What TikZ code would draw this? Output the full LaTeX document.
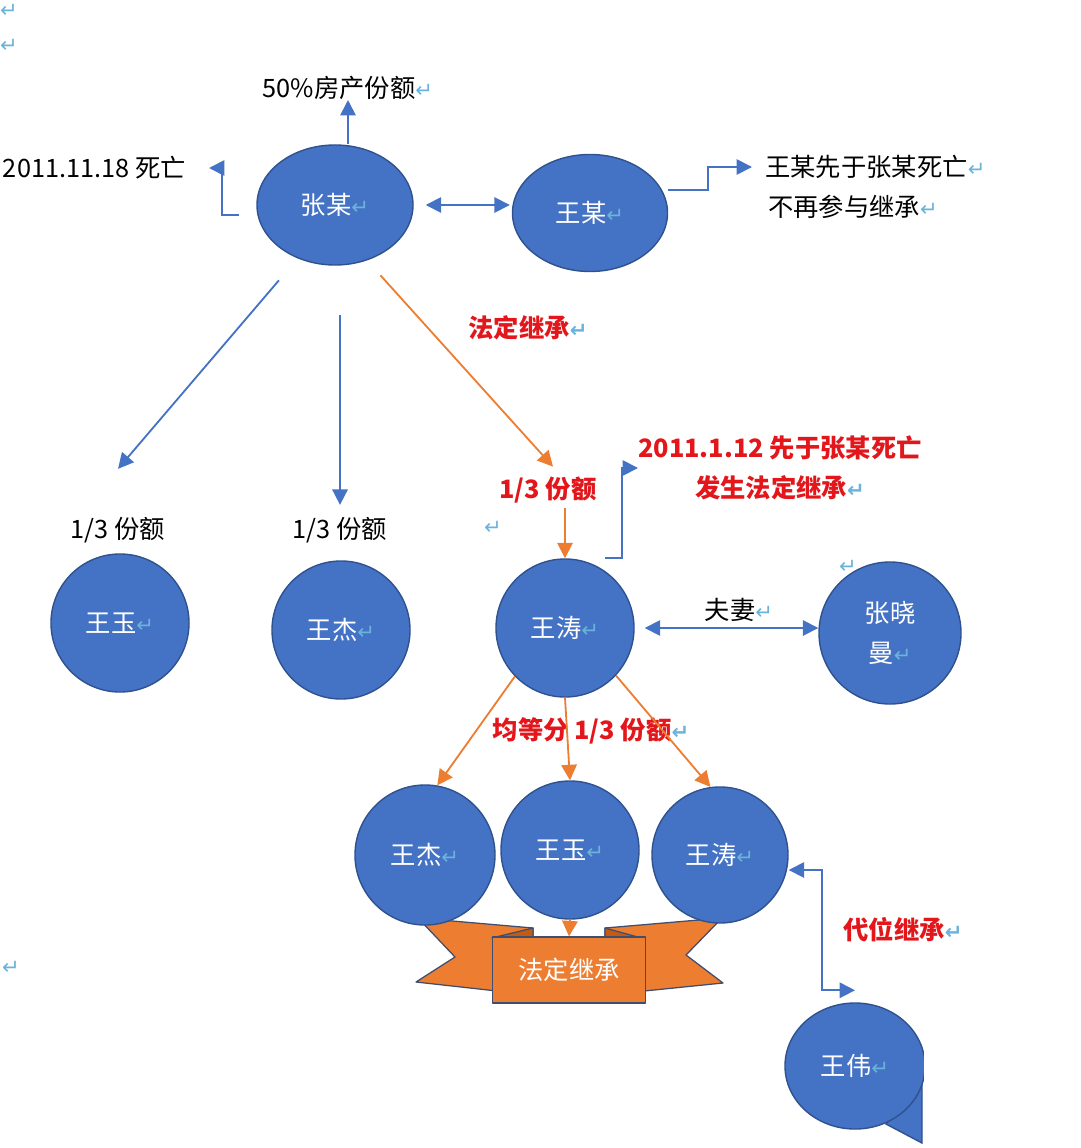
\documentclass[tikz,border=0pt]{standalone}
\usepackage{fontspec}
\setmainfont{Noto Sans CJK SC}
\newfontfamily\retfont{DejaVu Sans}
\usetikzlibrary{arrows.meta,shapes.geometric}
\definecolor{ballblue}{HTML}{4472C4}
\definecolor{balledge}{HTML}{2F528F}
\definecolor{lineblue}{HTML}{4472C4}
\definecolor{lineorange}{HTML}{ED7D31}
\definecolor{foldorange}{HTML}{C55A11}
\definecolor{ribbonedge}{HTML}{3F4E6E}
\definecolor{notered}{HTML}{E3171B}
\definecolor{retblue}{HTML}{6BB3DA}
\newcommand{\ret}{{\retfont\color{retblue}\fontsize{15}{15}\selectfont ↵}}
\begin{document}
\begin{tikzpicture}[x=0.025cm,y=-0.025cm,
  every node/.style={font=\fontsize{18}{23}\selectfont, inner sep=0pt},
  ball/.style={circle, draw=balledge, fill=ballblue, line width=1pt, text=white, minimum size=3.45cm},
  oval/.style={ellipse, draw=balledge, fill=ballblue, line width=1pt, text=white, minimum width=3.9cm, minimum height=3cm},
  redtxt/.style={text=notered, font=\fontsize{18}{28.5}\selectfont\bfseries},
  barrow/.style={draw=lineblue, line width=1.3pt, -{Triangle[length=11pt,width=11pt]}},
  bbarrow/.style={draw=lineblue, line width=1.3pt, {Triangle[length=11pt,width=11pt]}-{Triangle[length=11pt,width=11pt]}},
  oarrow/.style={draw=lineorange, line width=1.3pt, -{Triangle[length=11pt,width=11pt]}},
  ribbon/.style={fill=lineorange, draw=ribbonedge, line width=0.9pt, line join=round},
  ]
\useasboundingbox (0,0) rectangle (1080,1148);

\node[oval] (zhang) at (335,205) {张某\ret};
\node[oval, minimum width=3.875cm, minimum height=2.925cm] (wang) at (590,213) {王某\ret};
\node (share) at (348,88) {50\%房产份额\ret};
\node[anchor=east] (death) at (186,168) {2011.11.18 死亡};
\node[anchor=west] (wnote1) at (765,167) {王某先于张某死亡\ret};
\node[anchor=west] (wnote2) at (768,207) {不再参与继承\ret};
\node[redtxt] (law) at (528,328) {法定继承\ret};
\node (s1) at (118,530) {1/3 份额};
\node (s2) at (340,530) {1/3 份额};
\node[redtxt] (s3) at (548,490) {1/3 份额};
\node[redtxt, align=center, anchor=west] (died) at (638,468) {2011.1.12 先于张某死亡\\发生法定继承\ret};

\node[ball] (yu1) at (120,623) {王玉\ret};
\node[ball] (jie1) at (341,630) {王杰\ret};
\node[ball] (tao1) at (565,628) {王涛\ret};
\node[ball, minimum size=3.55cm, align=center, font=\fontsize{18}{28.5}\selectfont] (zxm) at (890,633) {张晓\\曼\ret};
\node (fuqi) at (739,610) {夫妻\ret};
\node[redtxt] (avg) at (591,731) {均等分 1/3 份额\ret};

\filldraw[ribbon] (418,918) -- (533,928) -- (533,995) -- (416,982) -- (455,957) -- cycle;
\filldraw[ribbon] (722,918) -- (605,928) -- (605,995) -- (723,983) -- (686,955) -- cycle;
\filldraw[ribbon, fill=foldorange] (492,938) -- (533,928) -- (533,938) -- cycle;
\filldraw[ribbon, fill=foldorange] (605,928) -- (645,939) -- (605,939) -- cycle;
\node[ribbon, minimum width=3.825cm, minimum height=1.65cm, text=white] (band) at (569,970) {法定继承};

\node[ball, minimum size=3.5cm] (jie2) at (425,855) {王杰\ret};
\node[ball] (yu2) at (570,850) {王玉\ret};
\node[ball, minimum size=3.4cm] (tao2) at (720,855) {王涛\ret};
\node[redtxt] (dai) at (903,930) {代位继承\ret};

\filldraw[fill=ballblue, draw=balledge, line width=1pt] (886,1124) -- (922,1143) -- (922,1070) -- cycle;
\node[ball, ellipse, minimum width=3.5cm, minimum height=3.15cm] (wei) at (855,1066) {王伟\ret};
\fill[white] (924,1040) rectangle (1080,1148);

\node (r1) at (9,11) {\ret};
\node (r2) at (9,46) {\ret};
\node (r3) at (11,968) {\ret};
\node (r4) at (493,528) {\ret};
\node (r5) at (848,567) {\ret};

\draw[barrow] (share.south |- zhang.north) -- (share.south);
\draw[barrow, shorten >=0.575cm] ([xshift=-0.425cm,yshift=-0.25cm]zhang.west) -- ++(-17,0) |- (death.east);
\draw[bbarrow, shorten <=0.3cm, shorten >=0.05cm] (zhang.east) -- (zhang.east -| wang.west);
\draw[barrow, shorten >=0.325cm] ([yshift=0.575cm]wang.east) -- ++(40,0) |- (wnote1.west);
\draw[barrow, shorten <=0.72cm] (zhang.235) -- ([yshift=1.2cm]s1.north);
\draw[barrow, shorten <=1.225cm, shorten >=0.3cm] (zhang.south -| s2.north) -- (s2.north);
\draw[oarrow, shorten <=0.5cm] (zhang.300) -- ([xshift=0.125cm,yshift=0.25cm]s3.north);
\draw[oarrow, shorten <=0.125cm] (tao1.north |- s3.south) -- (tao1.north);
\draw[barrow] ([xshift=1cm]tao1.north) -- ++(17,0) |- (died.west);
\draw[bbarrow, shorten <=0.25cm] (tao1.east) -- (tao1.east -| zxm.west);
\draw[oarrow] (tao1.224) -- (jie2.80);
\draw[oarrow] (tao1.south) -- (yu2.north);
\draw[oarrow] (tao1.317) -- (tao2.98);
\draw[oarrow] (yu2.south) -- (band.north);
\draw[bbarrow] ([yshift=-0.375cm]tao2.east) -- ++(33,0) |- ([yshift=0.3cm]wei.north);
\end{tikzpicture}
\end{document}
